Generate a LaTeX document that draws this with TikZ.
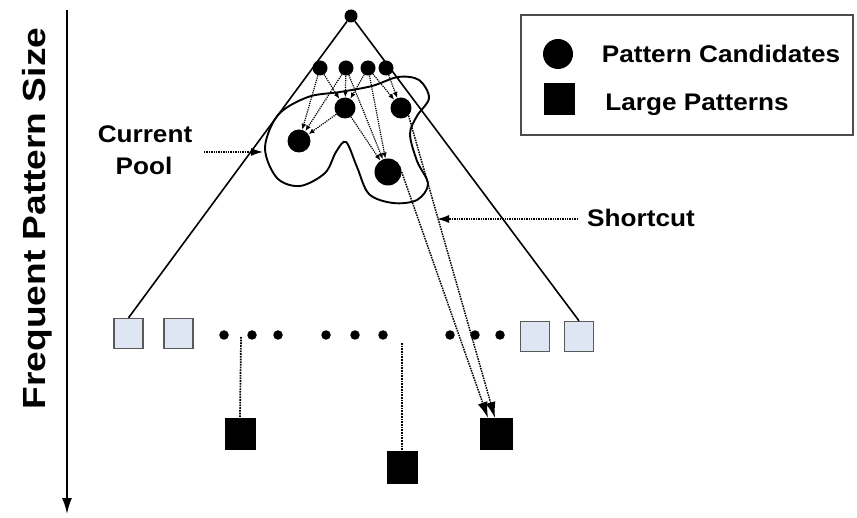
\documentclass[tikz,border=0pt]{standalone}
\usepackage{fontspec}
\setmainfont{Liberation Sans}[FakeStretch=1.09]
\newfontfamily\axisfont{Liberation Sans}[FakeStretch=1.16]
\usetikzlibrary{arrows.meta}
\definecolor{leafblue}{HTML}{DEE6F4}

\begin{document}
\begin{tikzpicture}[x=1pt,y=-1pt,
  cand/.style={circle,fill=black,inner sep=0pt,minimum size=#1},
  gapdot/.style={circle,fill=black,inner sep=0pt,minimum size=9.5pt},
  leaf/.style={rectangle,draw=black!65,fill=leafblue,line width=1.3pt,inner sep=0pt,minimum width=29pt,minimum height=30pt},
  large/.style={rectangle,fill=black,inner sep=0pt,minimum width=31pt,minimum height=32pt},
  lbl/.style={font=\fontsize{24}{28}\selectfont\bfseries,inner sep=0pt,anchor=base},
  tree/.style={line width=1.6pt},
  flow/.style={densely dotted,line width=1.2pt,-{Latex[length=6pt,width=5pt]}},
  jump/.style={densely dotted,line width=1.5pt,-{Latex[length=16pt,width=10pt]}},
  pointer/.style={densely dotted,line width=1.4pt,-{Latex[length=12pt,width=8pt]}},
]
\useasboundingbox (0,0) rectangle (857,518);

% size axis
\coordinate (axtop) at (67,10);
\coordinate (axbot) at (67,514);
\draw[line width=1.7pt,-{Latex[length=16pt,width=10pt]}] (axtop) -- (axbot);
\node[font=\axisfont\fontsize{32}{36}\selectfont\bfseries,rotate=90,anchor=base,inner sep=0pt]
  (axlbl) at (45,218.5) {Frequent Pattern Size};

% candidate lattice
\node[cand=13pt] (root) at (351,16) {};
\node[cand=15pt] (d1) at (320,68) {};
\node[cand=15pt] (d2) at (346,68) {};
\node[cand=15pt] (d3) at (368,68) {};
\node[cand=15pt] (d4) at (386,68) {};
\node[cand=21pt] (c1) at (345,108) {};
\node[cand=21pt] (c2) at (401,108) {};
\node[cand=23pt] (c3) at (299,141) {};
\node[cand=27pt] (c4) at (388,172) {};

% lowest level of the lattice
\node[leaf] (a1) at (128.5,333.5) {};
\node[leaf] (a2) at (178.5,333.5) {};
\node[leaf] (a3) at (535,336.5) {};
\node[leaf] (a4) at (579,336.5) {};
\foreach \n/\x in {g1/224,g2/252,g3/278,g4/326,g5/355,g6/383,g7/450,g8/475,g9/500}
  \node[gapdot] (\n) at (\x,335) {};

% large patterns
\node[large] (b1) at (240,434) {};
\node[large] (b2) at (402,467.5) {};
\node[large,minimum width=33pt] (b3) at (496.5,434) {};

% lattice outline
\draw[tree] (root) -- (a1.north);
\draw[tree] (root) -- (a4.north);

% current pool outline
\draw[line width=1.9pt] plot[smooth cycle,tension=0.55] coordinates {
  (265,148) (278,115) (308,97) (340,92) (372,86) (398,77) (419,80) (429,98)
  (417,116) (410,134) (417,161) (428,184) (417,200) (393,203) (369,194)
  (357,167) (346,142) (336,152) (325,173) (300,186) (277,178)};

% candidate generation
\draw[flow] (d1) -- (c3);
\draw[flow] (d2) -- (c3);
\draw[flow] (c1) -- (c3);
\draw[flow] (d1) -- (c1);
\draw[flow] (d2) -- (c1);
\draw[flow] (d3) -- (c1);
\draw[flow] (d2) -- (c4);
\draw[flow] (d3) -- (c4);
\draw[flow] (c1) -- (c4);
\draw[flow] (d3) -- (c2);
\draw[flow] (d4) -- (c2);

% shortcuts to large patterns
\coordinate (t1) at (488,418);
\coordinate (t2) at (495,418);
\draw[jump] (c4.east) -- (t1);
\draw[jump] (c2.south east) -- (t2);

% large patterns reached from the gaps
\coordinate (s1) at (241,337);
\coordinate (s2) at (402,343);
\draw[densely dotted,line width=1.7pt] (s1) -- (b1.north);
\draw[densely dotted,line width=1.7pt] (s2) -- (b2.north);

% labels
\node[lbl] (cur) at (145,143) {Current};
\node[lbl] (pool) at (144,175) {Pool};
\coordinate (curfrom) at (204,152);
\coordinate (curto) at (263,152);
\draw[pointer] (curfrom) -- (curto);

\node[lbl] (short) at (641,227) {Shortcut};
\coordinate (shfrom) at (578,219);
\coordinate (shto) at (437,219);
\draw[pointer] (shfrom) -- (shto);

% legend
\node[draw=black!70,line width=1.2pt,minimum width=332pt,minimum height=120pt,inner sep=0pt] (legend) at (687,75) {};
\node[cand=30pt] (lc) at (558,54) {};
\node[large,minimum width=31pt,minimum height=32pt] (ls) at (559,99) {};
\node[lbl] (lct) at (721,63) {Pattern Candidates};
\node[lbl] (lst) at (697,111) {Large Patterns};
\end{tikzpicture}
\end{document}
